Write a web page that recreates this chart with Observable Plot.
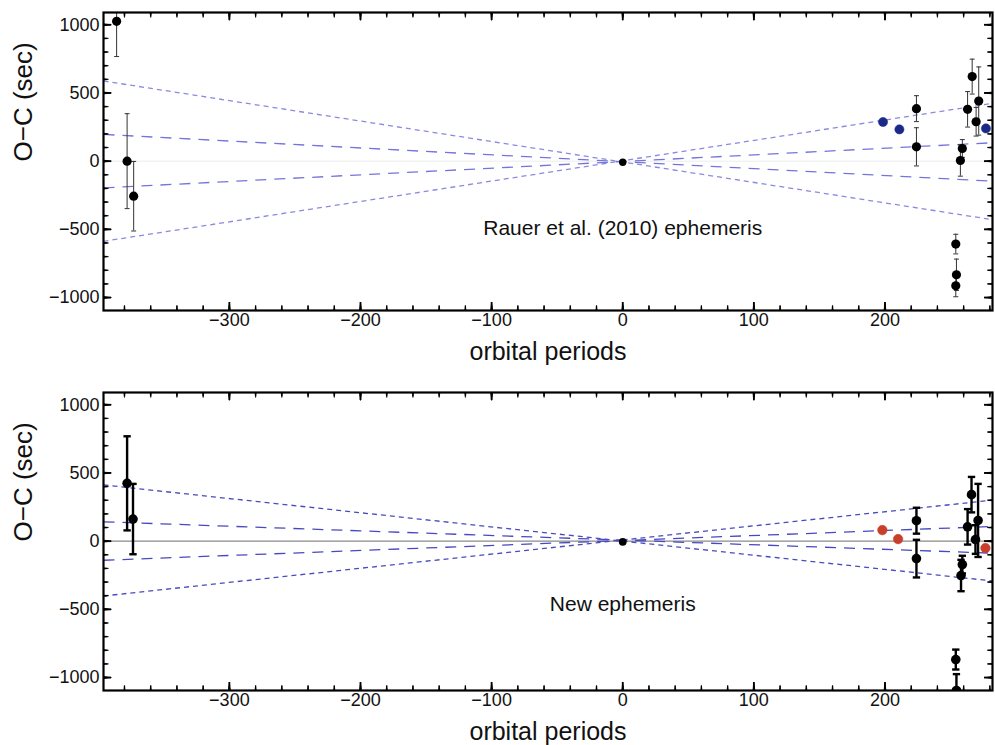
<!DOCTYPE html>
<html><head><meta charset="utf-8">
<script src="https://cdn.jsdelivr.net/npm/d3@7"></script>
<script src="https://cdn.jsdelivr.net/npm/@observablehq/plot@0.6"></script>
<style>
body{margin:0;background:#fff;}
#wrap{width:995px;}
</style></head><body><div id="wrap"></div>
<script>
// ---- data (orbital period, O−C seconds, error seconds) ----
const topBlackX = [-386, -378, -373, 0, 224, 224, 254, 254.5, 254, 259, 257.5, 263, 266.5, 269.5, 271.5];
const topBlackY = [1025, 0, -257, -8, 385, 105, -608, -833, -914, 93, 5, 380, 620, 289, 441];
const topBlackE = [258, 348, 255, 0, 95, 140, 72, 115, 80, 65, 115, 130, 128, 105, 250];
const topBlueX = [198.5, 211, 277];
const topBlueY = [287, 233, 240];
const topBlueE = [28, 0, 18];

const botBlackX = [-378, -373.5, 0, 224, 224, 254, 254.5, 259, 258, 263, 266, 269, 271];
const botBlackY = [424, 162, -5, 150, -128, -868, -1095, -172, -252, 105, 341, 12, 152];
const botBlackE = [345, 258, 0, 95, 138, 73, 120, 65, 115, 130, 130, 105, 268];
const botRedX = [198, 210, 276.6];
const botRedY = [81, 15, -51];
const botRedE = [20, 10, 15];

// envelope lines through the reference epoch: [x1, y1, x2, y2]
const topFineLines = [[-396, 588, 282, -429], [-396, -588, 282, 424]];
const topLongLines = [[-396, 196, 282, -147], [-396, -196, 282, 135]];
const botFineLines = [[-396, 412, 282, -292], [-396, -402, 282, 301]];
const botLongLines = [[-396, 142, 282, -88], [-396, -140, 282, 108]];

const xMajor = [-300, -200, -100, 0, 100, 200];
const xMinor = d3.range(-380, 281, 20);
const yMajor = [-1000, -500, 0, 500, 1000];
const yMinor = d3.range(-1000, 1001, 100);
const xDomain = [-396, 282];
const yDomain = [-1095, 1090];

const topLabel = "Rauer et al. (2010) ephemeris";
const botLabel = "New ephemeris";
const xTitle = "orbital periods";
const yTitle = "O−C (sec)";

const FONT = "'Liberation Sans', Arial, Helvetica, sans-serif";
const fmt = d3.format("d");

function rows(xs, ys, es) { return xs.map((x, i) => ({x, y: ys[i], e: es[i]})); }
function lines(arr) { return arr.map(([x1, y1, x2, y2]) => ({x1, y1, x2, y2})); }

function panel({black, colored, colorFill, fine, long, lineColorFine, lineColorLong, zeroColor, zeroWidth,
                barWidth, capHalf, barColor, label, labelY, height, marginBottom, dotR}) {
  const W = 995, mL = 103, mR = 3, mT = 12;
  const FW = W - mL - mR, FH = height - mT - marginBottom;
  const ux = (xDomain[1] - xDomain[0]) / FW;   // data units per pixel
  const uy = (yDomain[1] - yDomain[0]) / FH;
  const withErr = black.filter(d => d.e > 0);
  const noErr = black.filter(d => d.e === 0);
  const colErr = colored.filter(d => d.e > 0);
  const xTicks = (vals, len) => vals.flatMap(v => [
    {x: v, a: yDomain[0], b: yDomain[0] + len * uy, side: 0},
    {x: v, a: yDomain[1], b: yDomain[1] - len * uy, side: 180}]);
  const yTicks = (vals, len) => vals.flatMap(v => [
    {y: v, a: xDomain[0], b: xDomain[0] + len * ux, side: 90},
    {y: v, a: xDomain[1], b: xDomain[1] - len * ux, side: 270}]);
  const tickVec = (arr, len, r, horiz) => Plot.vector(arr, {
    x: horiz ? "a" : "x", y: horiz ? "y" : "a", rotate: "side", length: len,
    anchor: "start", shape: "spike", r, fill: "black", stroke: "black", strokeWidth: 0.6});
  return Plot.plot({
    width: W, height, marginLeft: mL, marginRight: mR, marginTop: mT, marginBottom,
    style: {fontFamily: FONT, background: "white", color: "black"},
    x: {domain: xDomain, axis: null},
    y: {domain: yDomain, axis: null},
    length: {type: "identity"},
    marks: [
      Plot.ruleY([0], {stroke: zeroColor, strokeWidth: zeroWidth}),
      Plot.link(lines(fine), {x1: "x1", y1: "y1", x2: "x2", y2: "y2", stroke: lineColorFine, strokeWidth: 1.3, strokeDasharray: "5,4"}),
      Plot.link(lines(long), {x1: "x1", y1: "y1", x2: "x2", y2: "y2", stroke: lineColorLong, strokeWidth: 1.3, strokeDasharray: "11,8"}),
      Plot.ruleX(colErr, {x: "x", y1: d => d.y - d.e, y2: d => d.y + d.e, stroke: "#888", strokeWidth: 1, clip: true}),
      Plot.dot(colored, {x: "x", y: "y", r: dotR, fill: colorFill, stroke: colorFill, strokeWidth: 0.5, clip: true}),
      Plot.ruleX(withErr, {x: "x", y1: d => d.y - d.e, y2: d => d.y + d.e, stroke: barColor, strokeWidth: barWidth, clip: true}),
      Plot.link(withErr, {x1: d => d.x - capHalf, x2: d => d.x + capHalf, y1: d => d.y - d.e, y2: d => d.y - d.e, stroke: barColor, strokeWidth: barWidth, clip: true}),
      Plot.link(withErr, {x1: d => d.x - capHalf, x2: d => d.x + capHalf, y1: d => d.y + d.e, y2: d => d.y + d.e, stroke: barColor, strokeWidth: barWidth, clip: true}),
      Plot.dot(withErr, {x: "x", y: "y", r: dotR, fill: "black", clip: true}),
      Plot.dot(noErr, {x: "x", y: "y", r: dotR - 0.9, fill: "black", clip: true}),
      Plot.text([label], {x: 0, y: labelY, text: d => d, fontSize: 21, fill: "#111"}),
      // inward ticks on all four sides
      Plot.ruleX(xTicks(xMajor, 8), {x: "x", y1: "a", y2: "b", stroke: "black", strokeWidth: 1.8}),
      Plot.ruleX(xTicks(xMinor, 4.5), {x: "x", y1: "a", y2: "b", stroke: "black", strokeWidth: 1.2}),
      Plot.ruleY(yTicks(yMajor, 8), {y: "y", x1: "a", x2: "b", stroke: "black", strokeWidth: 1.8}),
      Plot.ruleY(yTicks(yMinor, 4.5), {y: "y", x1: "a", x2: "b", stroke: "black", strokeWidth: 1.2}),
      tickVec(xTicks(xMajor, 8), 8, 1, false),
      tickVec(xTicks(xMinor, 4.5), 5, 0.7, false),
      tickVec(yTicks(yMajor, 8), 8, 1, true),
      tickVec(yTicks(yMinor, 4.5), 5, 0.7, true),
      // tick labels
      Plot.text(xMajor, {x: d => d, frameAnchor: "bottom", dy: 15, text: d => fmt(d), fontSize: 18, fill: "#111"}),
      Plot.text(yMajor, {y: d => d, frameAnchor: "left", dx: -4, textAnchor: "end", text: d => fmt(d), fontSize: 18, fill: "#111"}),
      // axis titles
      Plot.text([xTitle], {frameAnchor: "bottom", dy: 49, text: d => d, fontSize: 25, fill: "#111"}),
      Plot.text([yTitle], {frameAnchor: "left", dx: -80, rotate: -90, text: d => d, fontSize: 26, fill: "#111"}),
      Plot.frame({stroke: "black", strokeWidth: 2.2})
    ]
  });
}

const wrap = document.getElementById("wrap");
const p1 = panel({
  black: rows(topBlackX, topBlackY, topBlackE),
  colored: rows(topBlueX, topBlueY, topBlueE), colorFill: "#1b2a86",
  fine: topFineLines, long: topLongLines,
  lineColorFine: "#8a8ae0", lineColorLong: "#7474dc",
  zeroColor: "#ececec", zeroWidth: 1,
  barWidth: 1, capHalf: 1.9, barColor: "#333",
  label: topLabel, labelY: -493, height: 380, marginBottom: 70, dotR: 4.6
});
const p2 = panel({
  black: rows(botBlackX, botBlackY, botBlackE),
  colored: rows(botRedX, botRedY, botRedE), colorFill: "#c8402c",
  fine: botFineLines, long: botLongLines,
  lineColorFine: "#4b4bbe", lineColorLong: "#4848c0",
  zeroColor: "#8a8a8a", zeroWidth: 1.4,
  barWidth: 2.4, capHalf: 2.8, barColor: "black",
  label: botLabel, labelY: -463, height: 365, marginBottom: 55, dotR: 4.8
});
for (const p of [p1, p2]) { p.style.display = "block"; wrap.appendChild(p); }
</script></body></html>
